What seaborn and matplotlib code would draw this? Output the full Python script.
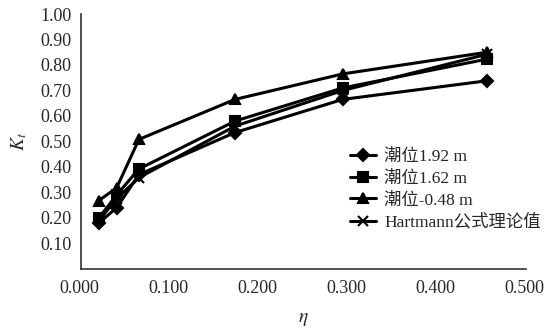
import numpy as np
import pandas as pd
import seaborn as sns
import matplotlib.pyplot as plt
import matplotlib.transforms as mtransforms

eta = [0.020, 0.040, 0.065, 0.173, 0.294, 0.456]
kt_192 = [0.180, 0.240, 0.370, 0.535, 0.665, 0.738]
kt_162 = [0.200, 0.290, 0.392, 0.580, 0.710, 0.823]
kt_neg048 = [0.268, 0.318, 0.508, 0.665, 0.765, 0.850]
kt_hartmann = [0.190, 0.275, 0.358, 0.560, 0.700, 0.842]

labels = ['潮位1.92 m', '潮位1.62 m', '潮位-0.48 m', 'Hartmann公式理论值']
series = [kt_192, kt_162, kt_neg048, kt_hartmann]
markers = ['D', 's', '^', 'x']

sns.set_style("white")
plt.rcParams['font.family'] = ['Liberation Serif', 'Noto Sans CJK SC']
plt.rcParams['font.size'] = 13
plt.rcParams['mathtext.fontset'] = 'stix'

fig = plt.figure(figsize=(5.44, 3.34), dpi=100)
ax = fig.add_axes([0.149, 0.195, 0.818, 0.763])

for s, lab, m in zip(series, labels, markers):
    d = pd.DataFrame({'eta': eta, 'kt': s})
    sns.lineplot(data=d, x='eta', y='kt', color='black', marker=m,
                 linewidth=2.2, markersize=6.5 if m != 'x' else 7,
                 markeredgecolor='black', markeredgewidth=1.5,
                 label=lab, ax=ax)

ax.set_xlim(0, 0.5)
ax.set_ylim(0, 1.0)
ax.set_xticks(np.arange(0, 0.51, 0.1))
ax.set_xticklabels(['%.3f' % v for v in np.arange(0, 0.51, 0.1)])
ax.set_yticks(np.arange(0.1, 1.01, 0.1))
ax.set_yticklabels(['%.2f' % v for v in np.arange(0.1, 1.01, 0.1)])
ax.tick_params(axis='x', direction='in', length=4, width=1, pad=8, labelsize=13)
ax.tick_params(axis='y', length=0, pad=7, labelsize=13)

# labels sit a little left of their ticks
shift = mtransforms.ScaledTranslation(-1.5 / 100, 0, fig.dpi_scale_trans)
for lbl in ax.get_xticklabels():
    lbl.set_transform(lbl.get_transform() + shift)

for side in ['top', 'right']:
    ax.spines[side].set_visible(False)
for side in ['left', 'bottom']:
    ax.spines[side].set_color('#333333')
    ax.spines[side].set_linewidth(1.2)

ax.set_xlabel(r'$\eta$', fontsize=14, labelpad=10)
ax.set_ylabel(r'$K_t$', fontsize=14, labelpad=8)

ax.legend(loc='center left', bbox_to_anchor=(0.597, 0.31), frameon=False,
          fontsize=12.5, handlelength=1.5, handletextpad=0.45, labelspacing=0.32,
          borderaxespad=0, borderpad=0.2)

plt.savefig('out.png', dpi=100)
